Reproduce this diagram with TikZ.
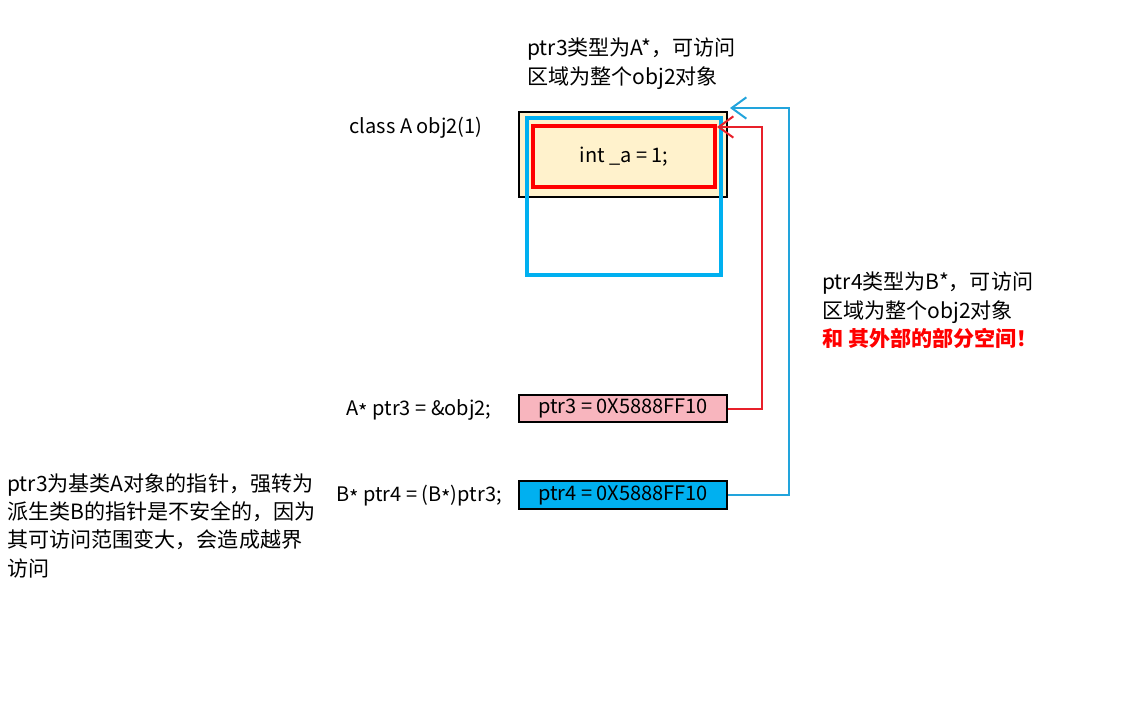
\documentclass[tikz,border=0pt]{standalone}
\usepackage{fontspec}
\setmainfont{Noto Sans CJK SC}
\usetikzlibrary{arrows.meta,calc}
\definecolor{cream}{HTML}{FFF2CC}
\definecolor{skyb}{HTML}{00B0F0}
\definecolor{pinkf}{HTML}{F8B5BE}
\definecolor{linered}{HTML}{E8202A}
\definecolor{lineblue}{HTML}{22A4DC}
\begin{document}
\begin{tikzpicture}[x=0.75pt,y=-0.75pt,
  box/.style={draw=black,line width=1.5pt,inner sep=0pt,minimum width=156pt},
  lbl/.style={inner sep=0pt,font=\fontsize{15pt}{18pt}\selectfont},
  note/.style={inner sep=0pt,anchor=west,font=\fontsize{15.8pt}{21.3pt}\selectfont,align=left},
  conn/.style={line width=1.5pt,-{Straight Barb[length=11pt,width=16pt,line width=1.5pt]}}]
\useasboundingbox (0,0) rectangle (1146,703);
% object boxes
\node[box,fill=cream,minimum height=63.75pt] (obj) at (623,154.5) {};
\node[draw=skyb,line width=3pt,inner sep=0pt,minimum width=145.5pt,minimum height=117.75pt] (bl) at (624,196.5) {};
\node[draw=red,fill=cream,line width=3pt,inner sep=0pt,minimum width=136.5pt,minimum height=45.75pt,lbl] (rd) at (624,156.5) {int \_a = 1;};
\node[lbl,anchor=center] (cls) at (416,128) {class A obj2(1)};
% pointer boxes
\node[box,fill=pinkf,minimum height=20.25pt,lbl] (p3) at (623,408.5) {ptr3 = 0X5888FF10};
\node[box,fill=skyb,minimum height=21pt,lbl] (p4) at (623,495) {ptr4 = 0X5888FF10};
\node[lbl] (d3) at (419,410) {A\raisebox{-0.35ex}{*} ptr3 = \&obj2;};
\node[lbl] (d4) at (419,496) {B\raisebox{-0.35ex}{*} ptr4 = (B\raisebox{-0.35ex}{*})ptr3;};
% connectors
\coordinate (rc) at (762,127);
\coordinate (bc) at (789,108);
\coordinate (bt) at (730,108);
\draw[conn,linered] (p3.east) -| (rc) -- (rd.east |- rc);
\draw[conn,lineblue] (p4.east) -| (bc) -- (bt);
% notes
\node[note,anchor=north west] (n1) at (527,38) {ptr3类型为A*，可访问\\区域为整个obj2对象};
\node[note,anchor=north west] (n2) at (822,272) {ptr4类型为B*，可访问\\区域为整个obj2对象\\\textcolor{red}{\bfseries 和 其外部的部分空间！}};
\node[note,anchor=north west] (n3) at (7,473) {ptr3为基类A对象的指针，强转为\\派生类B的指针是不安全的，因为\\其可访问范围变大，会造成越界\\访问};
\end{tikzpicture}
\end{document}
